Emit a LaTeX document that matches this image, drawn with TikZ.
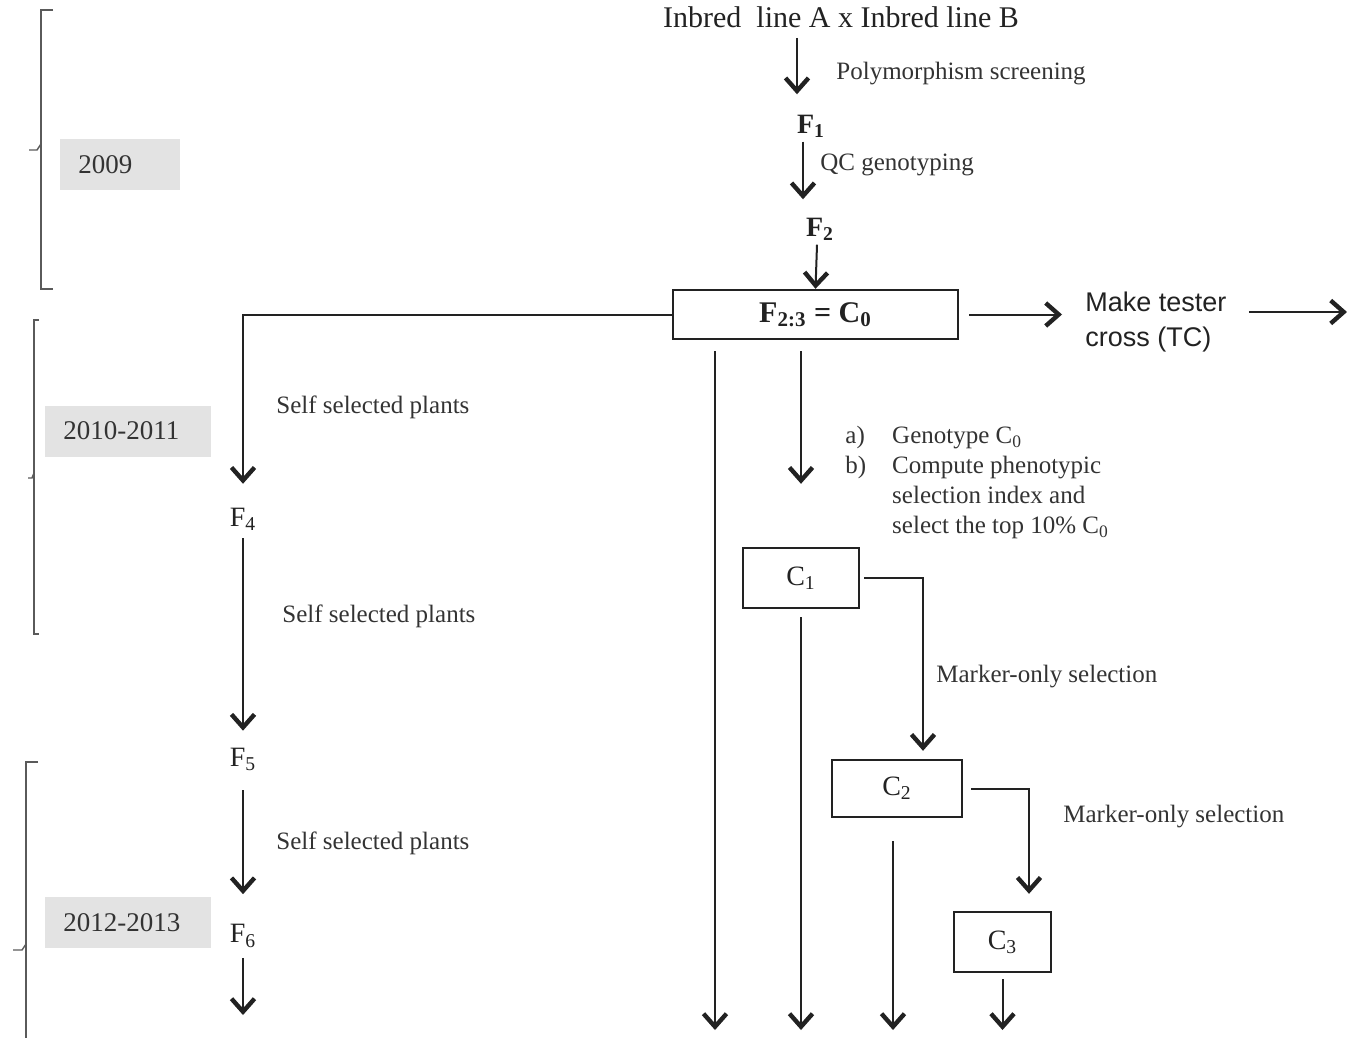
\documentclass[tikz,border=0pt]{standalone}
\usepackage{fontspec}
\setmainfont{Liberation Serif}
\newfontfamily\tcfont{Liberation Sans}
\usetikzlibrary{arrows.meta}

\definecolor{ink}{HTML}{222222}
\definecolor{greytext}{HTML}{333333}
\definecolor{yearfill}{HTML}{E3E3E3}
\definecolor{bracketgrey}{HTML}{5A5A5A}

\newcommand{\fsbig}{\fontsize{15}{18}\selectfont}
\newcommand{\fsgen}{\fontsize{14}{17}\selectfont}
\newcommand{\fssmall}{\fontsize{12.5}{15}\selectfont}
\newcommand{\fsyear}{\fontsize{13.5}{16}\selectfont}

\tikzset{
  arr/.style={draw=ink, line width=1pt, -{Straight Barb[length=6.5pt,width=11.5pt,line width=2.2pt]}},
  gen/.style={font=\fsgen, text=ink, inner sep=2pt},
  cbox/.style={draw=ink, line width=1.2pt, font=\fsgen, text=ink},
  lbl/.style={font=\fssmall, text=greytext, anchor=west, inner sep=0pt},
  yearbox/.style={fill=yearfill, text=greytext, font=\fsyear, anchor=west, align=left, minimum height=25.5pt, inner xsep=9pt},
  bracket/.style={draw=bracketgrey, line width=0.7pt},
}

\begin{document}
\begin{tikzpicture}[x=0.5pt, y=-0.5pt]
  \useasboundingbox (0,0) rectangle (1347,1038);

  % brackets for the years
  \draw[bracket] (53,10) -- (41,10) -- (41,289) -- (53,289);
  \draw[bracket] (41,144) -- (37,150) -- (29,150);
  \draw[bracket] (39,320) -- (34,320) -- (34,634) -- (39,634);
  \draw[bracket] (34,473) -- (32,478) -- (28,478);
  \draw[bracket] (38,762) -- (26,762) -- (26,1038);
  \draw[bracket] (26,944) -- (22,950) -- (13,950);

  % years
  \node[yearbox, text width=42pt] (y2009) at (60,164.5) {2009};
  \node[yearbox, text width=65pt] (y2010) at (45,431) {2010-2011};
  \node[yearbox, text width=65pt] (y2012) at (45,922.5) {2012-2013};

  % the cross down to C0
  \node[gen, font=\fsbig] (cross) at (841,17) {Inbred\ \ line A x Inbred line B};
  \node[gen, font=\fsgen\bfseries] (F1) at (811,126) {F\textsubscript{1}};
  \node[gen, font=\fsgen\bfseries] (F2) at (820,229) {F\textsubscript{2}};
  \node[cbox, font=\fsbig\bfseries, minimum width=142.5pt, minimum height=24.5pt] (C0) at (815.5,314.5) {F\textsubscript{2:3} = C\textsubscript{0}};

  \draw[arr, shorten <=3pt, shorten >=8pt] ([xshift=-22pt]cross.south) -- ([xshift=-7pt]F1.north);
  \node[lbl] (poly) at (836,74) {Polymorphism screening};
  \draw[arr, shorten >=7pt] ([xshift=-4pt]F1.south) -- ([xshift=-8.5pt]F2.north);
  \node[lbl] (qc) at (820,165) {QC genotyping};
  \draw[arr] ([xshift=-1.5pt]F2.south) -- (C0.north);

  % tester cross
  \node[gen, font=\tcfont\fontsize{13.5}{17.5}\selectfont, anchor=west, align=left] (tc) at (1081,322.5) {Make tester\\cross (TC)};
  \coordinate (tcend) at (1347,312);
  \draw[arr, shorten <=5pt, shorten >=9.5pt] (C0.east) -- (tc.west |- C0.east);
  \draw[arr, shorten <=9pt] (tc.east |- tcend) -- (tcend);

  % selfing on the left
  \node[gen] (F4) at (243,519.5) {F\textsubscript{4}};
  \node[gen] (F5) at (243,759.5) {F\textsubscript{5}};
  \node[gen] (F6) at (243,936) {F\textsubscript{6}};
  \coordinate (F6end) at (243,1015);

  \draw[arr, shorten >=10pt] (C0.west) -| (F4.north);
  \node[lbl] (self1) at (276,407) {Self selected plants};
  \draw[arr, shorten <=1.5pt, shorten >=6.5pt] (F4.south) -- (F5.north);
  \node[lbl] (self2) at (282,616) {Self selected plants};
  \draw[arr, shorten <=7.5pt, shorten >=13pt] (F5.south) -- (F6.north);
  \node[lbl] (self3) at (276,843) {Self selected plants};
  \draw[arr, shorten <=3pt] (F6.south) -- (F6end);

  % marker selection cycles
  \node[cbox, minimum width=58pt, minimum height=30pt] (C1) at (801,578) {C\textsubscript{1}};
  \node[cbox, minimum width=65pt, minimum height=28.5pt] (C2) at (897,788.5) {C\textsubscript{2}};
  \node[cbox, minimum width=48.5pt, minimum height=30pt] (C3) at (1002.5,942) {C\textsubscript{3}};

  \node[lbl, anchor=north west] (steps) at (845,422) {\begin{tabular}{@{}l@{\hspace{13pt}}l@{}}
    a) & Genotype C\textsubscript{0}\\
    b) & Compute phenotypic\\
       & selection index and\\
       & select the top 10\% C\textsubscript{0}
  \end{tabular}};

  \coordinate (out0) at (715,1030);
  \coordinate (out1) at (801,1030);
  \coordinate (out2) at (893,1030);
  \coordinate (out3) at (1002.5,1030);

  \draw[arr, shorten <=5.5pt] (C0.south -| out0) -- (out0);
  \draw[arr, shorten <=5.5pt, shorten >=31.5pt] (C0.south -| C1.north) -- (C1.north);
  \draw[arr, shorten <=4pt] (C1.south) -- (out1);
  \draw[arr, shorten <=2pt, shorten >=4pt] (C1.east) -| ([xshift=13pt]C2.north);
  \node[lbl] (mark1) at (936,677) {Marker-only selection};
  \draw[arr, shorten <=11.5pt] (C2.south -| out2) -- (out2);
  \draw[arr, shorten <=4pt, shorten >=8.5pt] (C2.east) -| ([xshift=13.25pt]C3.north);
  \node[lbl] (mark2) at (1063,817) {Marker-only selection};
  \draw[arr, shorten <=3pt] (C3.south) -- (out3);
\end{tikzpicture}
\end{document}
